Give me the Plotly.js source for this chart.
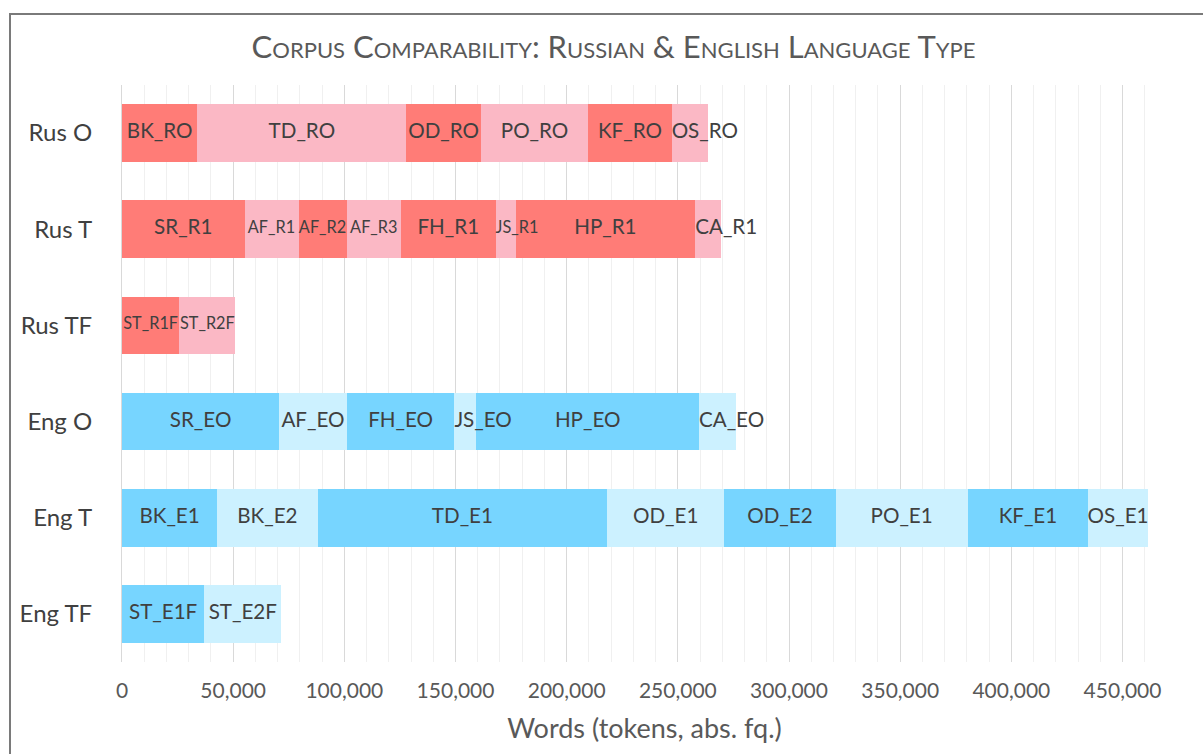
<!DOCTYPE html>
<html>
<head>
<meta charset="utf-8">
<script src="https://cdn.plot.ly/plotly-3.0.1.min.js"></script>
<style>
  html, body { margin: 0; padding: 0; overflow: hidden; background: #fff; }
  #chart { position: absolute; left: 0; top: 0; width: 1203px; height: 754px; }
  #frame { position: absolute; left: 9px; top: 13px; width: 1400px; height: 1000px;
           border-left: 2px solid #7a7a7a; border-top: 2px solid #7a7a7a; pointer-events: none; }
</style>
</head>
<body>
<div id="chart"></div>
<div id="frame"></div>
<script>
// Row categories (top to bottom)
const rows = ["Rus O", "Rus T", "Rus TF", "Eng O", "Eng T", "Eng TF"];

// Segment labels and word counts per row
const rusO_labels = ["BK_RO", "TD_RO", "OD_RO", "PO_RO", "KF_RO", "OS_RO"];
const rusO_values = [33900, 94000, 33500, 48300, 37500, 16300];

const rusT_labels = ["SR_R1", "AF_R1", "AF_R2", "AF_R3", "FH_R1", "JS_R1", "HP_R1", "CA_R1"];
const rusT_values = [55100, 24300, 21600, 24500, 42500, 9000, 80800, 11400];

const rusTF_labels = ["ST_R1F", "ST_R2F"];
const rusTF_values = [25800, 25200];

const engO_labels = ["SR_EO", "AF_EO", "FH_EO", "JS_EO", "HP_EO", "CA_EO"];
const engO_values = [70700, 30400, 48400, 9900, 100100, 16600];

const engT_labels = ["BK_E1", "BK_E2", "TD_E1", "OD_E1", "OD_E2", "PO_E1", "KF_E1", "OS_E1"];
const engT_values = [42800, 45200, 130200, 52650, 50100, 59400, 54200, 26900];

const engTF_labels = ["ST_E1F", "ST_E2F"];
const engTF_values = [37000, 34700];

// Styling
const RED = "#FF7C77", PINK = "#FBB8C5", BLUE = "#77D5FF", LBLUE = "#CCF1FF";
const smallLabels = ["AF_R1", "AF_R2", "AF_R3", "JS_R1", "ST_R1F", "ST_R2F"];
const FONT = "Lato, 'Open Sans', sans-serif";

const groups = [
  { row: rows[0], labels: rusO_labels, values: rusO_values, colors: [RED, PINK] },
  { row: rows[1], labels: rusT_labels, values: rusT_values, colors: [RED, PINK] },
  { row: rows[2], labels: rusTF_labels, values: rusTF_values, colors: [RED, PINK] },
  { row: rows[3], labels: engO_labels, values: engO_values, colors: [BLUE, LBLUE] },
  { row: rows[4], labels: engT_labels, values: engT_values, colors: [BLUE, LBLUE] },
  { row: rows[5], labels: engTF_labels, values: engTF_values, colors: [BLUE, LBLUE] }
];

const traces = [];
const tx = [], ty = [], tt = [], tpos = [], tsize = [];
groups.forEach(g => {
  let start = 0;
  g.values.forEach((v, i) => {
    const lab = g.labels[i];
    traces.push({
      type: "bar",
      orientation: "h",
      y: [g.row],
      x: [v],
      name: lab,
      marker: { color: g.colors[i % 2], line: { width: 0 } },
      textposition: "none",
      hoverinfo: "name+x",
      showlegend: false
    });
    // label placement derived from the stacked data
    const narrow = v < 20000;
    tx.push(narrow ? start : start + v / 2);
    ty.push(g.row);
    tt.push(lab);
    tpos.push(narrow ? "middle right" : "middle center");
    tsize.push(smallLabels.includes(lab) ? 16.3 : 20.6);
    start += v;
  });
});

traces.push({
  type: "scatter",
  mode: "text",
  x: tx,
  y: ty,
  text: tt,
  textposition: tpos,
  textfont: { family: FONT, size: tsize, color: "#404040" },
  hoverinfo: "skip",
  showlegend: false,
  cliponaxis: false
});

const layout = {
  width: 1203,
  height: 754,
  paper_bgcolor: "rgba(0,0,0,0)",
  plot_bgcolor: "rgba(0,0,0,0)",
  barmode: "stack",
  bargap: 0.4,
  margin: { l: 122, r: 36, t: 85, b: 92 },
  font: { family: FONT, color: "#595959" },
  title: {
    text: "Corpus Comparability: Russian & English Language Type",
    font: { family: FONT, size: 31, color: "#595959", variant: "small-caps" },
    xref: "container", x: 0.51, xanchor: "center",
    yref: "container", y: 1 - 47 / 754, yanchor: "middle"
  },
  xaxis: {
    range: [0, 470000],
    dtick: 50000,
    tick0: 0,
    tickformat: ",d",
    showgrid: true,
    gridcolor: "#D9D9D9",
    gridwidth: 1,
    minor: { dtick: 10000, showgrid: true, gridcolor: "#F0F0F0", gridwidth: 1 },
    zeroline: false,
    showline: false,
    ticks: "",
    ticklabelstandoff: 14,
    tickfont: { family: FONT, size: 21, color: "#595959" },
    title: { text: "Words (tokens, abs. fq.)", font: { family: FONT, size: 27, color: "#595959" }, standoff: 18 },
    fixedrange: true
  },
  yaxis: {
    autorange: "reversed",
    showgrid: false,
    zeroline: false,
    showline: true,
    linecolor: "#D9D9D9",
    linewidth: 1,
    ticks: "",
    ticklabelstandoff: 24,
    tickfont: { family: FONT, size: 24, color: "#404040" },
    fixedrange: true
  }
};

Plotly.newPlot("chart", traces, layout, { displayModeBar: false, staticPlot: true });
</script>
</body>
</html>
